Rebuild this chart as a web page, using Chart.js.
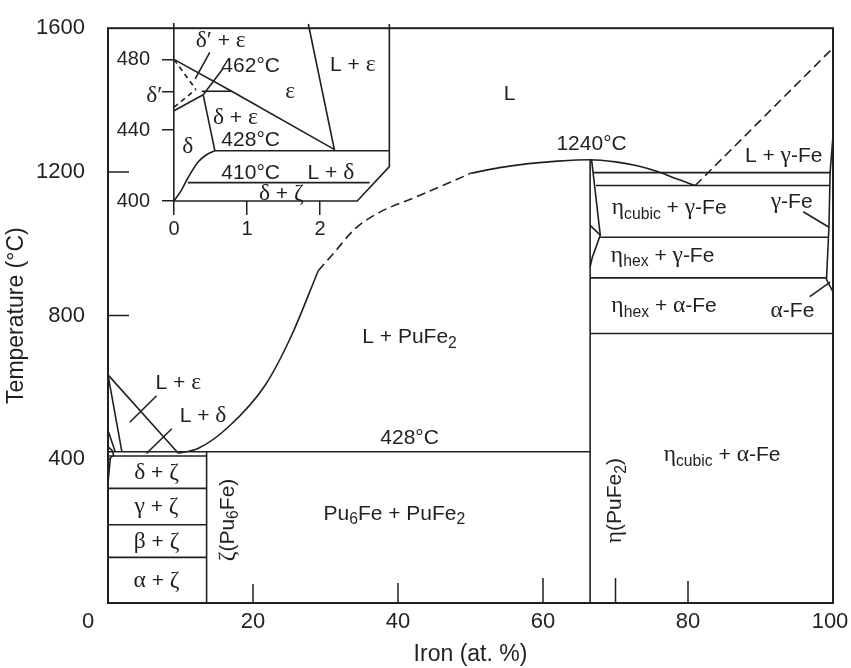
<!DOCTYPE html>
<html>
<head>
<meta charset="utf-8">
<script src="https://cdn.jsdelivr.net/npm/chart.js@4.4.1/dist/chart.umd.min.js"></script>
<style>
  html, body { margin: 0; padding: 0; background: #fff; }
  #wrap { position: relative; width: 851px; height: 668px; }
  #main { position: absolute; left: 0; top: 0; }
  #inset { position: absolute; left: 100px; top: 0; }
</style>
</head>
<body>
<div id="wrap">
  <canvas id="main" width="851" height="668"></canvas>
  <canvas id="inset" width="300" height="250"></canvas>
</div>
<script>
// ---- axes ----
const xTickValues = [0, 20, 40, 60, 80, 100];
const yTickValues = [400, 800, 1200, 1600];
const xInnerTicks = [20, 40, 60, 70, 80];
const xInnerTickLen = [19, 20, 25, 25, 22];
const yInnerTicks = [800, 1200];

// ---- main diagram boundaries (Fe at.%, temperature °C) ----
const liquidusLeft = [[9.7, 417], [12.4, 430], [16.6, 490], [21.7, 607], [25.3, 744], [29, 925]];
const liquidusDashed = [[29, 925], [31, 971], [34.1, 1042], [37.5, 1088], [42.1, 1127], [47.2, 1171], [50, 1196]];
const liquidusTop = [[50, 1196], [54, 1212], [58, 1223], [62, 1230], [66.5, 1234], [70, 1228], [73, 1217], [76.1, 1199], [78.5, 1180], [81, 1162]];
const liquidusFe = [[81, 1162], [100, 1545]];
const etaLeft = [[66.5, 0], [66.5, 1234]];
const etaRight = [[66.7, 1234], [67.9, 1024], [66.8, 962], [66.5, 935]];
const etaTransition = [[66.5, 1051], [67.9, 1024]];
const feSide = [[100, 1300], [99.6, 1198], [99.45, 1050], [99.1, 900], [100, 866]];
const line1198 = [[66.9, 1198], [99.6, 1198]];
const line1162 = [[67.3, 1162], [99.6, 1162]];
const line1018 = [[67.9, 1018], [99.4, 1018]];
const line905 = [[66.5, 905], [99.2, 905]];
const line750 = [[66.5, 750], [100, 750]];
const line428 = [[0, 421], [66.5, 421]];
const line410 = [[0, 409], [13.6, 409]];
const line319 = [[0, 319], [13.6, 319]];
const line218 = [[0, 218], [13.6, 218]];
const line127 = [[0, 127], [13.6, 127]];
const zetaLine = [[13.6, 0], [13.6, 421]];
const epsLiquidus = [[0, 635], [9.7, 417]];
const epsSolidus = [[0, 635], [1.9, 423]];
const puCorner1 = [[0, 480], [1.0, 421]];
const puCorner2 = [[0, 435], [0.55, 425], [0.77, 412], [0.32, 403], [0, 398]];
const puCorner3 = [[0, 335], [0.32, 403]];
const leaderLEps = [[6.7, 577], [3.0, 503]];
const leaderLDelta = [[8.8, 485], [5.3, 416]];
const leaderGammaFe = [[95.9, 1089], [99.45, 1046]];
const leaderAlphaFe = [[96.8, 853], [99.6, 893]];

const mainLabels = [
  ['L', 55.4, 1420], ['1240°C', 66.7, 1281], ['L + γ-Fe', 93.2, 1248],
  ['η_{cubic} + γ-Fe', 77.4, 1104], ['γ-Fe', 94.3, 1121],
  ['η_{hex} + γ-Fe', 76.5, 971], ['η_{hex} + α-Fe', 76.7, 830], ['α-Fe', 94.4, 816],
  ['η_{cubic} + α-Fe', 84.7, 416], ['L + PuFe_{2}', 41.6, 744], ['428°C', 41.6, 465],
  ['Pu_{6}Fe + PuFe_{2}', 39.5, 253],
  ['δ + ζ', 6.7, 366], ['γ + ζ', 6.7, 271], ['β + ζ', 6.7, 173], ['α + ζ', 6.7, 66],
  ['L + ε', 9.7, 616], ['L + δ', 13.1, 525]
];
const mainVerticalLabels = [['η(PuFe_{2})', 69.7, 285], ['ζ(Pu_{6}Fe)', 16.3, 231]];

// ---- inset (Pu-rich corner) ----
const insetXTicks = [0, 1, 2];
const insetYTicks = [400, 440, 462, 480];
const iEpsSolvus = [[0, 480], [0.79, 462], [2.2, 429]];
const iEpsLiquidus = [[1.84, 500], [2.2, 428.4]];
const i428 = [[0.56, 428.4], [2.95, 428.4]];
const iDeltaEps = [[0.40, 460], [0.56, 428.4]];
const iDeltaPrime = [[0, 451], [0.40, 460]];
const i462 = [[0.38, 462], [0.79, 462]];
const iDash1 = [[0, 480], [0.3, 463]];
const iDash2 = [[0, 453], [0.3, 463]];
const iDeltaSolvus = [[0, 400], [0.10, 406], [0.19, 413], [0.33, 422], [0.44, 426], [0.56, 428.4]];
const i410 = [[0.19, 410.4], [2.68, 410.4]];
const iOutline = [[0, 400], [2.51, 400], [2.95, 419.4], [2.95, 500]];
const iLeader1 = [[0.49, 484], [0.29, 469]];
const iLeader2 = [[0.675, 475], [0.40, 460]];
const insetLabels = [
  ['δ′ + ε', 0.64, 491], ['462°C', 1.05, 477], ['ε', 1.59, 462.6], ['L + ε', 2.45, 477.7],
  ['δ + ε', 0.84, 447.5], ['428°C', 1.05, 435.6], ['δ', 0.19, 431.3],
  ['410°C', 1.05, 416.7], ['L + δ', 2.15, 416.7], ['δ + ζ', 1.47, 404.9], ['δ′', -0.27, 460.4]
];

const INK = '#231f20';
const SANS = '"Liberation Sans", Arial, Helvetica, sans-serif';
const GREEK = '"Liberation Serif", "DejaVu Serif", serif';

function seg(points, dashed) {
  return {
    data: points.map(([x, y]) => ({x, y})),
    showLine: true, borderColor: INK, borderWidth: 1.6,
    borderDash: dashed || [], pointRadius: 0, fill: false, clip: false
  };
}
function curve(points, dashed) {
  return Object.assign(seg(points, dashed), {cubicInterpolationMode: 'monotone'});
}

// text with greek letters in a serif face and _{..} subscripts
function textRuns(str, size) {
  const parts = [];
  let i = 0;
  while (i < str.length) {
    if (str[i] === '_' && str[i + 1] === '{') {
      const j = str.indexOf('}', i);
      parts.push({t: str.slice(i + 2, j), sub: true});
      i = j + 1;
    } else {
      let j = i;
      while (j < str.length && !(str[j] === '_' && str[j + 1] === '{')) j++;
      parts.push({t: str.slice(i, j), sub: false});
      i = j;
    }
  }
  const runs = [];
  parts.forEach(p => {
    const s = p.sub ? size * 0.75 : size;
    const dy = p.sub ? size * 0.22 : 0;
    let cur = null;
    for (const ch of p.t) {
      const c = ch.charCodeAt(0);
      const greek = (c >= 0x370 && c <= 0x3ff) || ch === '′';
      const font = greek ? `${(s * 1.12).toFixed(1)}px ${GREEK}` : `${s}px ${SANS}`;
      if (cur && cur.font === font) cur.text += ch;
      else { cur = {text: ch, font, dy}; runs.push(cur); }
    }
  });
  return runs;
}
function drawRich(ctx, str, x, y, size, angle) {
  const runs = textRuns(str, size);
  ctx.save();
  ctx.translate(x, y);
  if (angle) ctx.rotate(angle);
  ctx.fillStyle = INK;
  ctx.textAlign = 'left';
  ctx.textBaseline = 'alphabetic';
  let w = 0;
  runs.forEach(r => { ctx.font = r.font; r.w = ctx.measureText(r.text).width; w += r.w; });
  let cx = -w / 2;
  const base = size * 0.36;
  runs.forEach(r => { ctx.font = r.font; ctx.fillText(r.text, cx, base + r.dy); cx += r.w; });
  ctx.restore();
}

const mainDecor = {
  id: 'mainDecor',
  afterDatasetsDraw(chart) {
    const {ctx, chartArea: a, scales: {x, y}} = chart;
    ctx.save();
    ctx.strokeStyle = INK;
    ctx.lineWidth = 2;
    ctx.strokeRect(a.left, a.top, a.right - a.left, a.bottom - a.top);
    ctx.lineWidth = 1.5;
    ctx.beginPath();
    xInnerTicks.forEach((v, i) => {
      const px = x.getPixelForValue(v);
      ctx.moveTo(px, a.bottom);
      ctx.lineTo(px, a.bottom - xInnerTickLen[i]);
    });
    yInnerTicks.forEach(v => {
      const py = y.getPixelForValue(v);
      ctx.moveTo(a.left, py);
      ctx.lineTo(a.left + 21, py);
    });
    ctx.stroke();
    ctx.fillStyle = INK;
    ctx.font = `22px ${SANS}`;
    ctx.textAlign = 'center';
    ctx.textBaseline = 'middle';
    xTickValues.forEach(v => {
      // the "0" sits left of the frame, under the temperature labels
      const shift = v === 0 ? -20 : (v === 100 ? -3 : 0);
      ctx.fillText(String(v), x.getPixelForValue(v) + shift, a.bottom + 19);
    });
    mainLabels.forEach(([t, vx, vy]) => drawRich(ctx, t, x.getPixelForValue(vx), y.getPixelForValue(vy), 21, 0));
    mainVerticalLabels.forEach(([t, vx, vy]) => drawRich(ctx, t, x.getPixelForValue(vx), y.getPixelForValue(vy), 21, -Math.PI / 2));
    ctx.restore();
  }
};

const mainChart = new Chart(document.getElementById('main'), {
  type: 'scatter',
  data: {
    datasets: [
      curve(liquidusLeft), curve(liquidusDashed, [9, 5]), curve(liquidusTop), seg(liquidusFe, [9, 5]),
      seg(etaLeft), seg(etaRight), seg(etaTransition), seg(feSide),
      seg(line1198), seg(line1162), seg(line1018), seg(line905), seg(line750),
      seg(line428), seg(line410), seg(line319), seg(line218), seg(line127), seg(zetaLine),
      seg(epsLiquidus), seg(epsSolidus), seg(puCorner1), seg(puCorner2), seg(puCorner3),
      seg(leaderLEps), seg(leaderLDelta), seg(leaderGammaFe), seg(leaderAlphaFe)
    ]
  },
  options: {
    responsive: false,
    animation: false,
    layout: {padding: {top: 16, right: 18, left: 0, bottom: 0}},
    plugins: {legend: {display: false}, tooltip: {enabled: false}},
    scales: {
      x: {
        type: 'linear', min: 0, max: 100,
        afterBuildTicks: s => { s.ticks = xTickValues.map(v => ({value: v})); },
        afterFit: s => { s.height = 65; },
        grid: {display: false}, border: {display: false},
        ticks: {display: false},
        title: {display: true, text: 'Iron (at. %)', color: INK, font: {family: SANS, size: 23}, padding: {top: 0, bottom: 0}}
      },
      y: {
        type: 'linear', min: 0, max: 1600,
        afterBuildTicks: s => { s.ticks = yTickValues.map(v => ({value: v})); },
        afterFit: s => { s.width = 108; },
        grid: {display: false}, border: {display: false},
        ticks: {color: INK, font: {family: SANS, size: 22}, padding: 15, callback: v => String(v)},
        title: {display: true, text: 'Temperature (°C)', color: INK, font: {family: SANS, size: 23}, padding: {top: 3, bottom: 0}}
      }
    }
  },
  plugins: [mainDecor]
});

const insetDecor = {
  id: 'insetDecor',
  afterDatasetsDraw(chart) {
    const {ctx, scales: {x, y}} = chart;
    insetLabels.forEach(([t, vx, vy]) => drawRich(ctx, t, x.getPixelForValue(vx), y.getPixelForValue(vy), 21, 0));
  }
};

const insetChart = new Chart(document.getElementById('inset'), {
  type: 'scatter',
  data: {
    datasets: [
      seg(iEpsSolvus), seg(iEpsLiquidus), seg(i428), seg(iDeltaEps), seg(iDeltaPrime), seg(i462),
      seg(iDash1, [5, 4]), seg(iDash2, [5, 4]), curve(iDeltaSolvus), seg(i410), seg(iOutline),
      seg(iLeader1), seg(iLeader2)
    ]
  },
  options: {
    responsive: false,
    animation: false,
    layout: {padding: {top: 16, right: 7, left: 0, bottom: 0}},
    plugins: {legend: {display: false}, tooltip: {enabled: false}},
    scales: {
      x: {
        type: 'linear', min: 0, max: 3,
        afterBuildTicks: s => { s.ticks = insetXTicks.map(v => ({value: v})); },
        afterFit: s => { s.height = 49; },
        grid: {drawOnChartArea: false, drawTicks: true, tickLength: 14, color: INK, lineWidth: 1.5},
        border: {display: false},
        ticks: {color: INK, font: {family: SANS, size: 20}, padding: 2, callback: v => String(v)}
      },
      y: {
        type: 'linear', min: 400, max: 500,
        afterBuildTicks: s => { s.ticks = insetYTicks.map(v => ({value: v})); },
        afterFit: s => { s.width = 74; },
        grid: {drawOnChartArea: false, drawTicks: true, tickLength: 12, color: INK, lineWidth: 1.5},
        border: {display: true, color: INK, width: 1.6},
        ticks: {color: INK, font: {family: SANS, size: 20}, padding: 12,
                callback: v => (v === 462 ? '' : String(v))}
      }
    }
  },
  plugins: [insetDecor]
});
</script>
</body>
</html>
